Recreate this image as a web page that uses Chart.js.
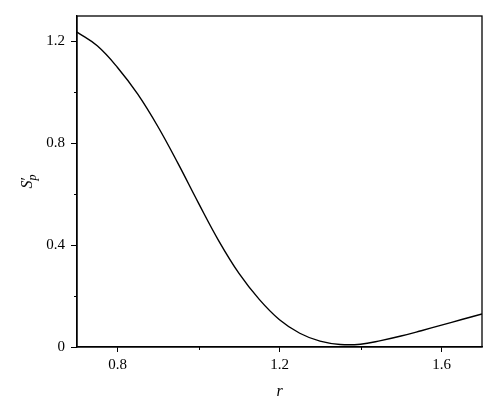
<!DOCTYPE html>
<html>
<head>
<meta charset="utf-8">
<script src="https://cdn.jsdelivr.net/npm/chart.js@4"></script>
<style>
  body { margin: 0; background: #fff; }
</style>
</head>
<body>
<canvas id="myChart" width="500" height="417"></canvas>
<script>
// curve
let rValues = [0.70, 0.75, 0.80, 0.85, 0.90, 0.95, 1.00, 1.05, 1.10, 1.15, 1.20,
               1.25, 1.30, 1.35, 1.40, 1.45, 1.50, 1.55, 1.60, 1.65, 1.70];
let spValues = [1.237, 1.183, 1.098, 0.993, 0.865, 0.719, 0.565, 0.417, 0.289, 0.187, 0.107,
                0.054, 0.023, 0.010, 0.011, 0.025, 0.043, 0.064, 0.086, 0.108, 0.130];

let xTicks = [0.8, 1.2, 1.6];
let xMinorTicks = [1.0, 1.4];
let yTicks = [0, 0.4, 0.8, 1.2];
let yMinorTicks = [0.2, 0.6, 1.0];

let tickFont = {family: "'Liberation Serif', 'DejaVu Serif', serif", size: 15};

// box round the plot, minor ticks and the two axis titles
let framePlugin = {
    id: 'frame',
    afterDraw(chart) {
        let ctx = chart.ctx;
        let a = chart.chartArea;
        let xs = chart.scales.x, ys = chart.scales.y;
        ctx.save();
        ctx.strokeStyle = '#000';
        ctx.lineWidth = 1.3;
        ctx.strokeRect(a.left, a.top, a.right - a.left, a.bottom - a.top);

        ctx.lineWidth = 1;
        ctx.beginPath();
        xMinorTicks.forEach(v => {
            let px = Math.round(xs.getPixelForValue(v)) + 0.5;
            ctx.moveTo(px, a.bottom);
            ctx.lineTo(px, a.bottom + 3);
        });
        yMinorTicks.forEach(v => {
            let py = Math.round(ys.getPixelForValue(v)) + 0.5;
            ctx.moveTo(a.left, py);
            ctx.lineTo(a.left - 3, py);
        });
        ctx.stroke();

        // x title
        ctx.fillStyle = '#000';
        ctx.font = "italic 16px 'Liberation Serif', serif";
        ctx.textAlign = 'center';
        ctx.textBaseline = 'alphabetic';
        ctx.fillText('r', (a.left + a.right) / 2, 396);

        // y title: S' with subscript p
        ctx.translate(32, (a.top + a.bottom) / 2);
        ctx.rotate(-Math.PI / 2);
        ctx.textAlign = 'left';
        let sFont = "italic 16px 'Liberation Serif', serif";
        let subFont = "italic 12px 'Liberation Serif', serif";
        ctx.font = sFont;
        let wS = ctx.measureText('S').width;
        ctx.font = subFont;
        let wP = ctx.measureText('p').width;
        let x0 = -(wS + wP) / 2;
        ctx.font = sFont;
        ctx.fillText('S', x0, 0);
        ctx.font = "16px 'Liberation Serif', serif";
        ctx.fillText('\u2032', x0 + wS, 0);
        ctx.font = subFont;
        ctx.fillText('p', x0 + wS, 4);
        ctx.restore();
    }
};

let context = document.getElementById("myChart");
let myChart = new Chart(context, {
    type: 'line',
    data: {
        datasets: [{
            data: rValues.map((r, i) => ({x: r, y: spValues[i]})),
            borderColor: '#000',
            borderWidth: 1.4,
            pointRadius: 0,
            fill: false,
            tension: 0.4
        }]
    },
    options: {
        responsive: false,
        animation: false,
        layout: {padding: {top: 16, right: 18, left: 0, bottom: 0}},
        plugins: {
            legend: {display: false},
            tooltip: {enabled: false}
        },
        scales: {
            x: {
                type: 'linear',
                min: 0.7,
                max: 1.7,
                afterBuildTicks: s => { s.ticks = xTicks.map(v => ({value: v})); },
                afterFit: s => { s.height = 70; },
                grid: {drawOnChartArea: false, tickLength: 5, color: '#000', lineWidth: 1},
                border: {display: true, color: '#000', width: 1.3},
                ticks: {font: tickFont, color: '#000', padding: 4, maxRotation: 0,
                        callback: v => String(v)}
            },
            y: {
                type: 'linear',
                min: 0,
                max: 1.3,
                afterBuildTicks: s => { s.ticks = yTicks.map(v => ({value: v})); },
                afterFit: s => { s.width = 77; },
                grid: {drawOnChartArea: false, tickLength: 6, color: '#000', lineWidth: 1},
                border: {display: true, color: '#000', width: 1.3},
                ticks: {font: tickFont, color: '#000', padding: 6,
                        callback: v => String(v)}
            }
        }
    },
    plugins: [framePlugin]
});
</script>
</body>
</html>
